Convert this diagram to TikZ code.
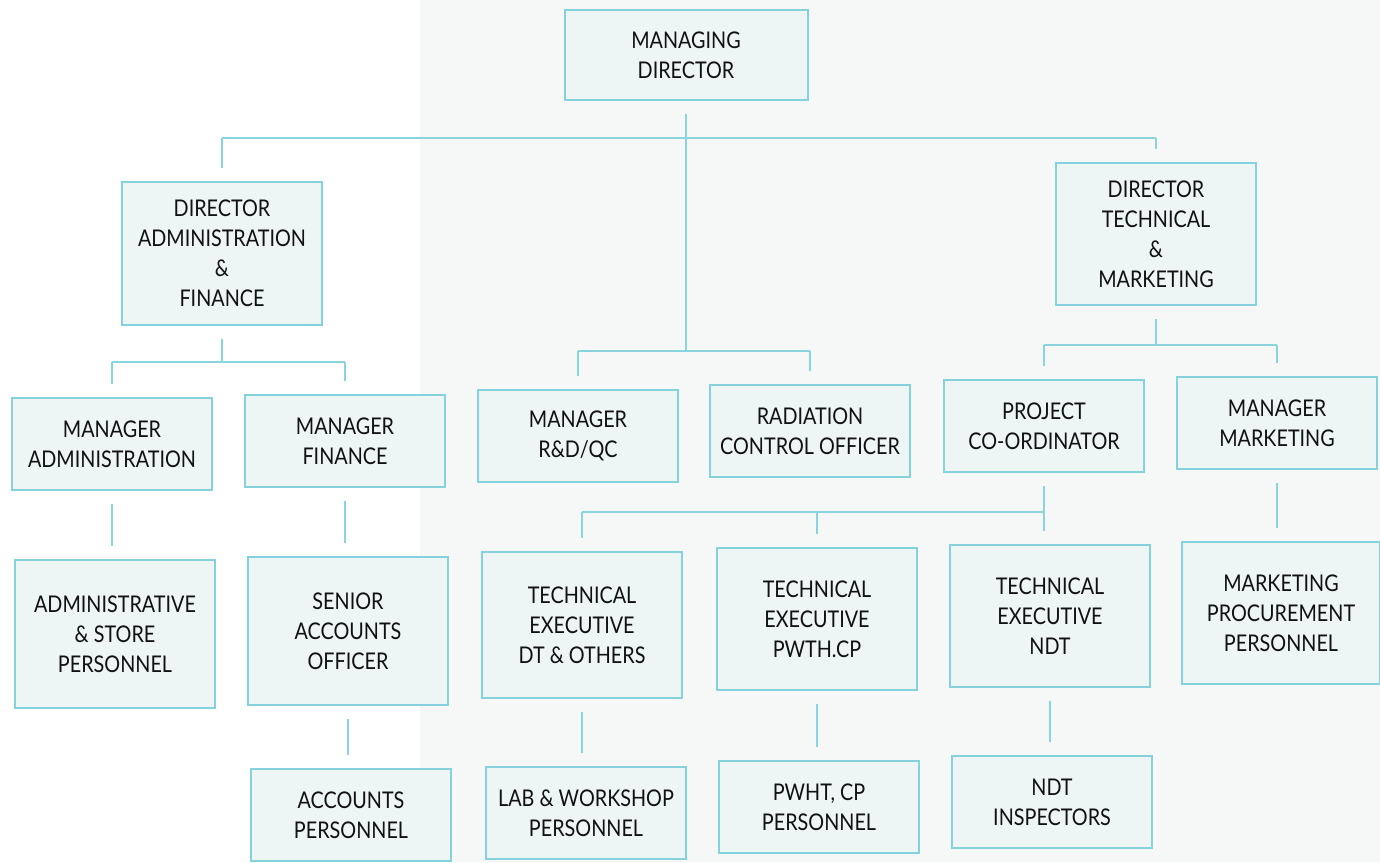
\documentclass[tikz,border=0pt]{standalone}
\usepackage{fontspec}
\newfontfamily\boxfont[FakeStretch=0.86]{Lato}
\definecolor{boxline}{HTML}{86D2DC}
\definecolor{boxfill}{HTML}{EDF5F5}
\definecolor{lineclr}{HTML}{8AD4DE}
\definecolor{txt}{HTML}{111111}
\definecolor{bgA}{HTML}{FFFFFF}
\definecolor{bgB}{HTML}{F6F8F8}
\tikzset{
  x=0.5pt, y=-0.5pt,
  box/.style={draw=boxline, fill=boxfill, line width=1pt, align=center,
    inner sep=0pt, text=txt, font=\boxfont\fontsize{11.5pt}{15pt}\selectfont,
    minimum width=100pt},
  sbox/.style={box, minimum height=46pt},
  tbox/.style={box, minimum height=72pt},
  conn/.style={draw=lineclr, line width=1pt},
  gapa/.style={shorten <=6.5pt},
  gapb/.style={shorten >=6.5pt},
}
\begin{document}
\begin{tikzpicture}
\useasboundingbox (0,0) rectangle (1380,862);
\fill[bgA] (0,0) rectangle (1380,862);
\fill[bgB] (420,0) rectangle (1380,862);

% level 1
\node[box, minimum width=121.5pt, minimum height=45pt] (md) at (686,55) {MANAGING\\DIRECTOR};
% level 2
\node[tbox, minimum height=71.5pt] (daf) at (222,253) {DIRECTOR\\ADMINISTRATION\\\&\\FINANCE};
\node[tbox, minimum height=71pt] (dtm) at (1156,234) {DIRECTOR\\TECHNICAL\\\&\\MARKETING};
% level 3
\node[sbox] (madm) at (112,444) {MANAGER\\ADMINISTRATION};
\node[sbox] (mfin) at (345,441) {MANAGER\\FINANCE};
\node[sbox] (mrd) at (578,436) {MANAGER\\R\&D/QC};
\node[sbox] (rco) at (810,431) {RADIATION\\CONTROL OFFICER};
\node[sbox] (pc) at (1044,426) {PROJECT\\CO-ORDINATOR};
\node[sbox] (mmkt) at (1277,423) {MANAGER\\MARKETING};
% level 4
\node[tbox, minimum height=74pt] (asp) at (115,634) {ADMINISTRATIVE\\\& STORE\\PERSONNEL};
\node[tbox, minimum height=74pt] (sao) at (348,631) {SENIOR\\ACCOUNTS\\OFFICER};
\node[tbox, minimum height=73pt] (tedt) at (582,625) {TECHNICAL\\EXECUTIVE\\DT \& OTHERS};
\node[tbox, minimum height=71pt] (tepw) at (817,619) {TECHNICAL\\EXECUTIVE\\PWTH.CP};
\node[tbox, minimum height=71pt] (tendt) at (1050,616) {TECHNICAL\\EXECUTIVE\\NDT};
\node[tbox, minimum height=71pt, minimum width=99pt] (mpp) at (1281,613) {MARKETING\\PROCUREMENT\\PERSONNEL};
% level 5
\node[sbox] (ap) at (351,815) {ACCOUNTS\\PERSONNEL};
\node[sbox] (lwp) at (586,813) {LAB \& WORKSHOP\\PERSONNEL};
\node[sbox] (pwp) at (819,807) {PWHT, CP\\PERSONNEL};
\node[sbox] (ndti) at (1052,802) {NDT\\INSPECTORS};

% buses
\coordinate (bus1) at (686,138);
\coordinate (bus2) at (686,351);
\coordinate (bus3) at (225,362);
\coordinate (bus4) at (1157,345);
\coordinate (bus5) at (1046,512);

% MD -> directors and middle managers
\draw[conn, gapa] (md.south) -- (bus2);
\draw[conn] (daf.north |- bus1) -- (dtm.north |- bus1);
\draw[conn, gapb] (daf.north |- bus1) -- (daf.north);
\draw[conn, gapb] (dtm.north |- bus1) -- (dtm.north);
\draw[conn] (mrd.north |- bus2) -- (rco.north |- bus2);
\draw[conn, gapb] (mrd.north |- bus2) -- (mrd.north);
\draw[conn, gapb] (rco.north |- bus2) -- (rco.north);

% DAF -> managers
\draw[conn, gapa] (daf.south) -- (daf.south |- bus3);
\draw[conn] (madm.north |- bus3) -- (mfin.north |- bus3);
\draw[conn, gapb] (madm.north |- bus3) -- (madm.north);
\draw[conn, gapb] (mfin.north |- bus3) -- (mfin.north);

% DTM -> managers
\draw[conn, gapa] (dtm.south) -- (dtm.south |- bus4);
\draw[conn] (pc.north |- bus4) -- (mmkt.north |- bus4);
\draw[conn, gapb] (pc.north |- bus4) -- (pc.north);
\draw[conn, gapb] (mmkt.north |- bus4) -- (mmkt.north);

% PC -> technical executives
\draw[conn, gapa, gapb] (pc.south) -- (pc.south |- tendt.north);
\draw[conn] (tedt.north |- bus5) -- (pc.south |- bus5);
\draw[conn, gapb] (tedt.north |- bus5) -- (tedt.north);
\draw[conn, gapb] (tepw.north |- bus5) -- (tepw.north);

% single links
\draw[conn, gapa, gapb] (madm.south) -- (madm.south |- asp.north);
\draw[conn, gapa, gapb] (mfin.south) -- (mfin.south |- sao.north);
\draw[conn, gapa, gapb] (mmkt.south) -- (mmkt.south |- mpp.north);
\draw[conn, gapa, gapb] (sao.south) -- (sao.south |- ap.north);
\draw[conn, gapa, gapb] (tedt.south) -- (tedt.south |- lwp.north);
\draw[conn, gapa, gapb] (tepw.south) -- (tepw.south |- pwp.north);
\draw[conn, gapa, gapb] (tendt.south) -- (tendt.south |- ndti.north);
\end{tikzpicture}
\end{document}
